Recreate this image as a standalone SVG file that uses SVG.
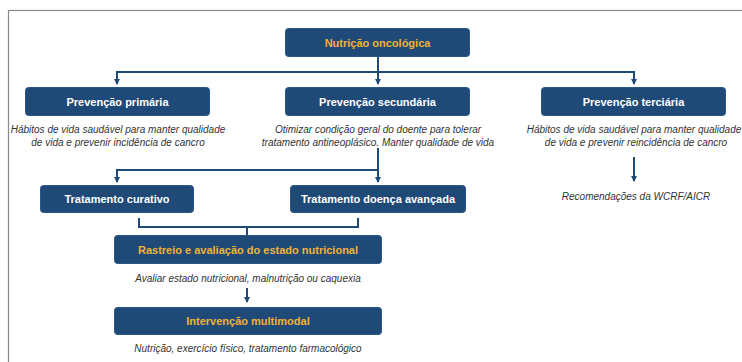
<svg xmlns="http://www.w3.org/2000/svg" width="742" height="362" viewBox="0 0 742 362">
<defs>
<marker id="ah" viewBox="0 0 6 6" refX="5" refY="3" markerWidth="3" markerHeight="3" orient="auto" markerUnits="strokeWidth">
<path d="M0,0 L6,3 L0,6 z" fill="#1f4a78"/>
</marker>
<style>
.box{fill:#1f4a78;stroke:#2a5688;stroke-width:1}
.w{font-family:"Liberation Sans",Arial,sans-serif;font-weight:bold;font-size:11px;fill:#ffffff;text-anchor:middle}
.o{font-family:"Liberation Sans",Arial,sans-serif;font-weight:bold;font-size:11px;fill:#f2b233;text-anchor:middle}
.d{font-family:"Liberation Sans",Arial,sans-serif;font-style:italic;font-size:10px;fill:#333333;text-anchor:middle}
.c{fill:none;stroke:#1f4a78;stroke-width:2}
</style>
</defs>
<rect width="742" height="362" fill="#ffffff"/>
<rect x="8.5" y="10.5" width="800" height="400" fill="none" stroke="#8a8a8a" stroke-width="1.2"/>
<g id="connectors">
<path class="c" d="M378,57 V72"/>
<path class="c" d="M117,84 V72 H634 V84"/>
<path class="c" d="M117,72 V84" marker-end="url(#ah)"/>
<path class="c" d="M378,72 V84" marker-end="url(#ah)"/>
<path class="c" d="M634,72 V84" marker-end="url(#ah)"/>
<path class="c" d="M634,157 V181" marker-end="url(#ah)"/>
<path class="c" d="M378,148 V182" marker-end="url(#ah)"/>
<path class="c" d="M378,170 H117 V182" marker-end="url(#ah)"/>
<path class="c" d="M139,218 V227 H358 V218"/>
<path class="c" d="M247,227 V235"/>
<path class="c" d="M247,288 V302" marker-end="url(#ah)"/>
</g>
<g id="n-nutricao">
<rect class="box" x="285.5" y="28.5" width="184" height="28" rx="3"/>
<text class="o" x="377.5" y="46.5">Nutrição oncológica</text>
</g>
<g id="n-primaria">
<rect class="box" x="25.5" y="87.5" width="184" height="28" rx="3"/>
<text class="w" x="117.5" y="105.5">Prevenção primária</text>
<text class="d" x="118" y="133">Hábitos de vida saudável para manter qualidade</text>
<text class="d" x="118" y="145.5">de vida e prevenir incidência de cancro</text>
</g>
<g id="n-secundaria">
<rect class="box" x="285.5" y="87.5" width="184" height="28" rx="3"/>
<text class="w" x="377.5" y="105.5">Prevenção secundária</text>
<text class="d" x="378" y="133">Otimizar condição geral do doente para tolerar</text>
<text class="d" x="378" y="145.5">tratamento antineoplásico. Manter qualidade de vida</text>
</g>
<g id="n-terciaria">
<rect class="box" x="541.5" y="87.5" width="184" height="28" rx="3"/>
<text class="w" x="633.5" y="105.5">Prevenção terciária</text>
<text class="d" x="634" y="133">Hábitos de vida saudável para manter qualidade</text>
<text class="d" x="636" y="145.5">de vida e prevenir reincidência de cancro</text>
</g>
<g id="n-wcrf">
<text class="d" x="636" y="200">Recomendações da WCRF/AICR</text>
</g>
<g id="n-curativo">
<rect class="box" x="40.5" y="185.5" width="153" height="27" rx="3"/>
<text class="w" x="117" y="203">Tratamento curativo</text>
</g>
<g id="n-avancada">
<rect class="box" x="290.5" y="185.5" width="175" height="27" rx="3"/>
<text class="w" x="378" y="203">Tratamento doença avançada</text>
</g>
<g id="n-rastreio">
<rect class="box" x="114.5" y="235.5" width="267" height="28" rx="3"/>
<text class="o" x="248" y="253.5">Rastreio e avaliação do estado nutricional</text>
<text class="d" x="248" y="282">Avaliar estado nutricional, malnutrição ou caquexia</text>
</g>
<g id="n-intervencao">
<rect class="box" x="114.5" y="307.5" width="267" height="27" rx="3"/>
<text class="o" x="248" y="325">Intervenção multimodal</text>
<text class="d" x="248" y="352">Nutrição, exercício físico, tratamento farmacológico</text>
</g>
</svg>
